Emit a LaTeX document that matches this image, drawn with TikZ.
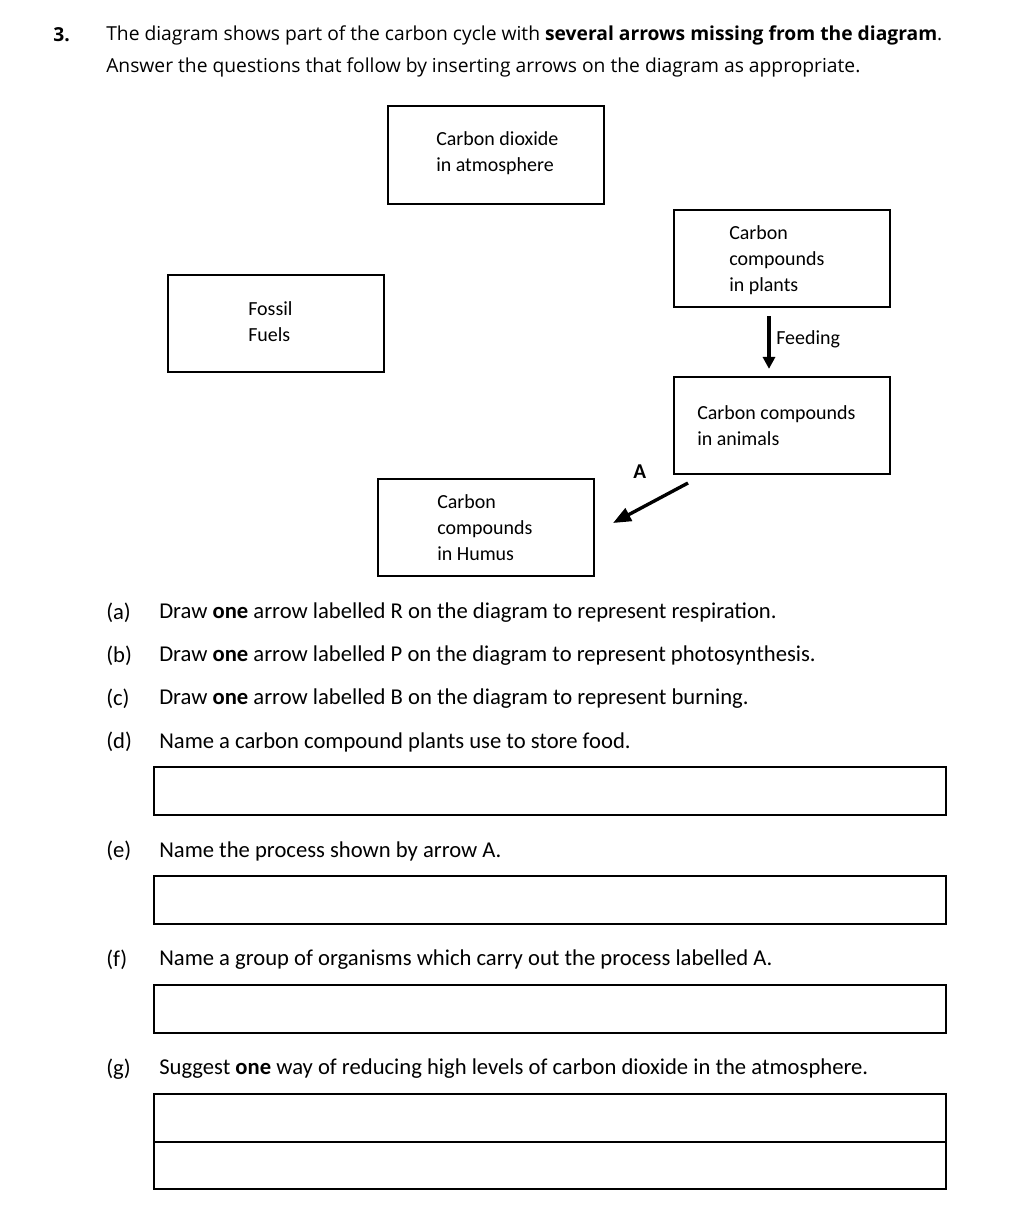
\documentclass[tikz,border=0pt]{standalone}
\usepackage{fontspec}
\setmainfont{Carlito}
\newfontfamily\headfont{Open Sans}
\usetikzlibrary{arrows.meta}
\tikzset{
  cbox/.style={draw,line width=1.4pt,minimum width=5.4cm,minimum height=2.43cm,inner sep=0pt},
  ctext/.style={anchor=west,align=left,inner sep=0pt,font=\fontsize{14.2}{18.5}\selectfont},
  qtext/.style={anchor=west,inner sep=0pt,font=\fontsize{16.1}{19}\selectfont},
  htext/.style={anchor=west,inner sep=0pt,font=\headfont\fontsize{13.7}{16}\selectfont},
  flow/.style={line width=2.4pt,-{Triangle[length=0.3cm,width=0.3cm]}},
  ansbox/.style={line width=1.4pt}
}
\begin{document}
\begin{tikzpicture}[x=0.025cm,y=-0.025cm]
   \useasboundingbox (0,0) rectangle (1023,1213);
   %kopf
   \node[htext] (num) at (53,35) {\bfseries 3.};
   \node[htext] (head1) at (106,35) {The diagram shows part of the carbon cycle with \textbf{several arrows missing from the diagram}.};
   \node[htext] (head2) at (106,67) {Answer the questions that follow by inserting arrows on the diagram as appropriate.};
   %kaesten
   \node[cbox] (co2) at (496,155) {};
   \node[cbox] (plants) at (782,258.5) {};
   \node[cbox] (fossil) at (276,323.5) {};
   \node[cbox] (animals) at (782,425.5) {};
   \node[cbox] (humus) at (486,527.5) {};
   \node[ctext] (co2txt) at (436,153) {Carbon dioxide\\in atmosphere};
   \node[ctext] (plantstxt) at (729,260) {Carbon\\compounds\\in plants};
   \node[ctext] (fossiltxt) at (248,322) {Fossil\\Fuels};
   \node[ctext] (animalstxt) at (697,426) {Carbon compounds\\in animals};
   \node[ctext] (humustxt) at (437,528) {Carbon\\compounds\\in Humus};
   %pfeile
   \coordinate (feedx) at (769,0);
   \draw[flow,shorten <=0.2cm,shorten >=0.175cm] (plants.south -| feedx) -- (animals.north -| feedx);
   \node[ctext] (feedtxt) at (776,339) {Feeding};
   \coordinate (aStart) at (688,483);
   \coordinate (aEnd) at (613,523);
   \draw[flow,-{Triangle[length=0.45cm,width=0.35cm]}] (aStart) -- (aEnd);
   \node[ctext,font=\fontsize{15}{18}\selectfont\bfseries] (alabel) at (633,472) {A};
   %fragen
   \node[qtext] (qa) at (106,613) {(a)};
   \node[qtext] (qatxt) at (159,613) {Draw \textbf{one} arrow labelled R on the diagram to represent respiration.};
   \node[qtext] (qb) at (106,656) {(b)};
   \node[qtext] (qbtxt) at (159,656) {Draw \textbf{one} arrow labelled P on the diagram to represent photosynthesis.};
   \node[qtext] (qc) at (106,699) {(c)};
   \node[qtext] (qctxt) at (159,699) {Draw \textbf{one} arrow labelled B on the diagram to represent burning.};
   \node[qtext] (qd) at (106,742) {(d)};
   \node[qtext] (qdtxt) at (159,742) {Name a carbon compound plants use to store food.};
   \node[qtext] (qe) at (106,851) {(e)};
   \node[qtext] (qetxt) at (159,851) {Name the process shown by arrow A.};
   \node[qtext] (qf) at (106,960) {(f)};
   \node[qtext] (qftxt) at (159,960) {Name a group of organisms which carry out the process labelled A.};
   \node[qtext] (qg) at (106,1069) {(g)};
   \node[qtext] (qgtxt) at (159,1069) {Suggest \textbf{one} way of reducing high levels of carbon dioxide in the atmosphere.};
   %antwortfelder
   \foreach \y in {767,876,985} \draw[ansbox] (154,\y) rectangle (946,\y+48);
   \draw[ansbox] (154,1094) rectangle (946,1189);
   \draw[ansbox] (154,1142) -- (946,1142);
\end{tikzpicture}
\end{document}
